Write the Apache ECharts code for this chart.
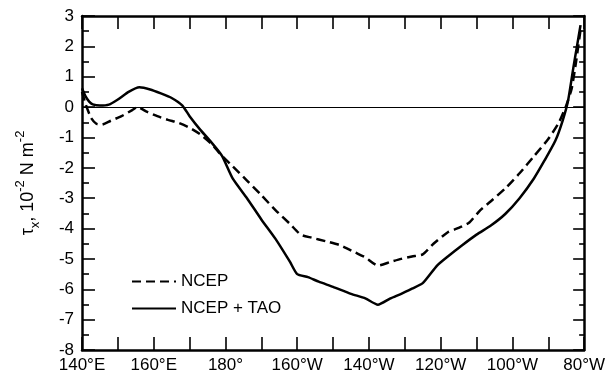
<!DOCTYPE html>
<html><head><meta charset="utf-8">
<script src="https://cdn.jsdelivr.net/npm/echarts@6/dist/echarts.min.js"></script>
<style>html,body{margin:0;padding:0;background:#fff}#c{width:608px;height:379px}</style>
</head><body><div id="c"></div>
<script>
// Longitude in degrees east (0-360)
const xTickLabels = {140:'140°E',160:'160°E',180:'180°',200:'160°W',220:'140°W',240:'120°W',260:'100°W',280:'80°W'};
const xTickVals = [140,150,160,170,180,190,200,210,220,230,240,250,260,270,280];
const yMajorTicks = [-8,-7,-6,-5,-4,-3,-2,-1,0,1,2,3];
const yMinorTicks = [-7.5,-6.5,-5.5,-4.5,-3.5,-2.5,-1.5,-0.5,0.5,1.5,2.5];
const seriesNames = ['NCEP','NCEP + TAO'];
const ncepLon = [140,141,142.5,144,145.5,148,151,154,155.5,158,161,164,167,170,173,176,179,182,186,190,194,198,201,204,208,212,216,219,222.5,226,229,232,235,238,242,245,248,251,254,258,262,266,270,273,275,276.5,277.7,279];
const ncepVal = [0.5,0.1,-0.35,-0.55,-0.58,-0.45,-0.3,-0.1,0.0,-0.15,-0.3,-0.42,-0.52,-0.68,-0.9,-1.2,-1.6,-1.95,-2.42,-2.9,-3.4,-3.85,-4.2,-4.3,-4.42,-4.55,-4.78,-4.95,-5.22,-5.1,-5.0,-4.92,-4.85,-4.5,-4.12,-3.98,-3.8,-3.4,-3.1,-2.68,-2.18,-1.62,-1.05,-0.5,0.05,0.6,1.45,2.55];
const taoLon = [140,141,142,143,145,147.5,150,153,156,159,162,165,168,170,173,176,179,182,186,190,194,198,200,203,206,210,215,219,222.5,226,229,232,235,239,242,246,250,254,258,262,266,269,272,274,275.5,277,278,279];
const taoVal = [0.62,0.35,0.18,0.09,0.05,0.08,0.25,0.5,0.65,0.58,0.45,0.3,0.05,-0.3,-0.75,-1.15,-1.6,-2.35,-3.0,-3.7,-4.35,-5.1,-5.5,-5.6,-5.75,-5.92,-6.15,-6.3,-6.51,-6.3,-6.15,-5.98,-5.8,-5.22,-4.92,-4.55,-4.2,-3.9,-3.52,-3.0,-2.35,-1.75,-1.1,-0.45,0.2,1.3,2.0,2.7];
const X_MIN = 140, X_MAX = 280, Y_MIN = -8, Y_MAX = 3;

const FONT = 'Liberation Sans, Arial, Helvetica, sans-serif';
const GRID = {left:82,right:23,top:16,bottom:29};
const W = 608, H = 379;
const pxPerX = (W-GRID.left-GRID.right)/(X_MAX-X_MIN);
const pxPerY = (H-GRID.top-GRID.bottom)/(Y_MAX-Y_MIN);
const zip = (a,b)=>a.map((v,i)=>[v,b[i]]);
const axLine = ()=>({show:true,onZero:false,lineStyle:{color:'#000',width:2.5}});
const tickStyle = ()=>({color:'#000',width:1.6,type:'solid'});
const seg = (x1,y1,x2,y2)=>[{coord:[x1,y1],lineStyle:tickStyle()},{coord:[x2,y2]}];
// tick marks, positioned through the chart's own scales (markLine coords)
const tickSegs = [];
xTickVals.forEach(v=>{
  tickSegs.push(seg(v, Y_MIN, v, Y_MIN + 13/pxPerY));
  tickSegs.push(seg(v, Y_MAX, v, Y_MAX - 13/pxPerY));
});
yMajorTicks.forEach(v=>{
  tickSegs.push(seg(X_MIN, v, X_MIN + 13/pxPerX, v));
  tickSegs.push(seg(X_MAX, v, X_MAX - 11/pxPerX, v));
});
yMinorTicks.forEach(v=>{
  tickSegs.push(seg(X_MIN, v, X_MIN + 7/pxPerX, v));
  tickSegs.push(seg(X_MAX, v, X_MAX - 5/pxPerX, v));
});

const chart = echarts.init(document.getElementById('c'));
chart.setOption({
  animation:false,
  backgroundColor:'#fff',
  grid:Object.assign({},GRID),
  legend:{
    orient:'vertical',left:126,top:268,itemWidth:44,itemHeight:14,itemGap:10,
    textStyle:{fontFamily:FONT,fontSize:17,color:'#000'},
    itemStyle:{color:'transparent',borderWidth:0,opacity:0},
    data:seriesNames
  },
  xAxis:[
    {type:'value',min:X_MIN,max:X_MAX,interval:10,position:'bottom',
     axisLine:axLine(),axisTick:{show:false},
     axisLabel:{fontFamily:FONT,fontSize:17,color:'#000',margin:7,
       formatter:v=>xTickLabels[v]||''},
     splitLine:{show:false}},
    {type:'value',min:X_MIN,max:X_MAX,interval:10,position:'top',
     axisLine:axLine(),axisTick:{show:false},
     axisLabel:{show:false},splitLine:{show:false}}
  ],
  yAxis:[
    {type:'value',min:Y_MIN,max:Y_MAX,interval:1,position:'left',
     axisLine:axLine(),axisTick:{show:false},
     axisLabel:{fontFamily:FONT,fontSize:17,color:'#000',margin:8},
     splitLine:{show:false},
     name:'{t|τ}{sub|x}{t|, 10}{sup|-2}{t| N m}{sup|-2}',
     nameLocation:'middle',nameGap:40,nameRotate:90,
     nameTextStyle:{fontFamily:FONT,fontSize:18,color:'#000',
       rich:{
         t:{fontFamily:FONT,fontSize:18,color:'#000',lineHeight:28},
         sup:{fontFamily:FONT,fontSize:13,color:'#000',verticalAlign:'top',lineHeight:28},
         sub:{fontFamily:FONT,fontSize:13,color:'#000',verticalAlign:'bottom',lineHeight:28}
       }}},
    {type:'value',min:Y_MIN,max:Y_MAX,interval:1,position:'right',
     axisLine:axLine(),axisTick:{show:false},
     axisLabel:{show:false},splitLine:{show:false}}
  ],
  series:[
    {name:seriesNames[0],type:'line',xAxisIndex:0,yAxisIndex:0,data:zip(ncepLon,ncepVal),symbol:'none',smooth:0.2,
     lineStyle:{color:'#000',width:2.5,type:[9,5]},itemStyle:{color:'#000'}},
    {name:seriesNames[1],type:'line',xAxisIndex:0,yAxisIndex:0,data:zip(taoLon,taoVal),symbol:'none',smooth:0.2,
     lineStyle:{color:'#000',width:2.5,type:'solid'},itemStyle:{color:'#000'},
     markLine:{silent:true,symbol:'none',label:{show:false},animation:false,
       lineStyle:{color:'#000',width:1,type:'solid'},
       data:[{yAxis:0}].concat(tickSegs)}}
  ]
});
</script></body></html>
